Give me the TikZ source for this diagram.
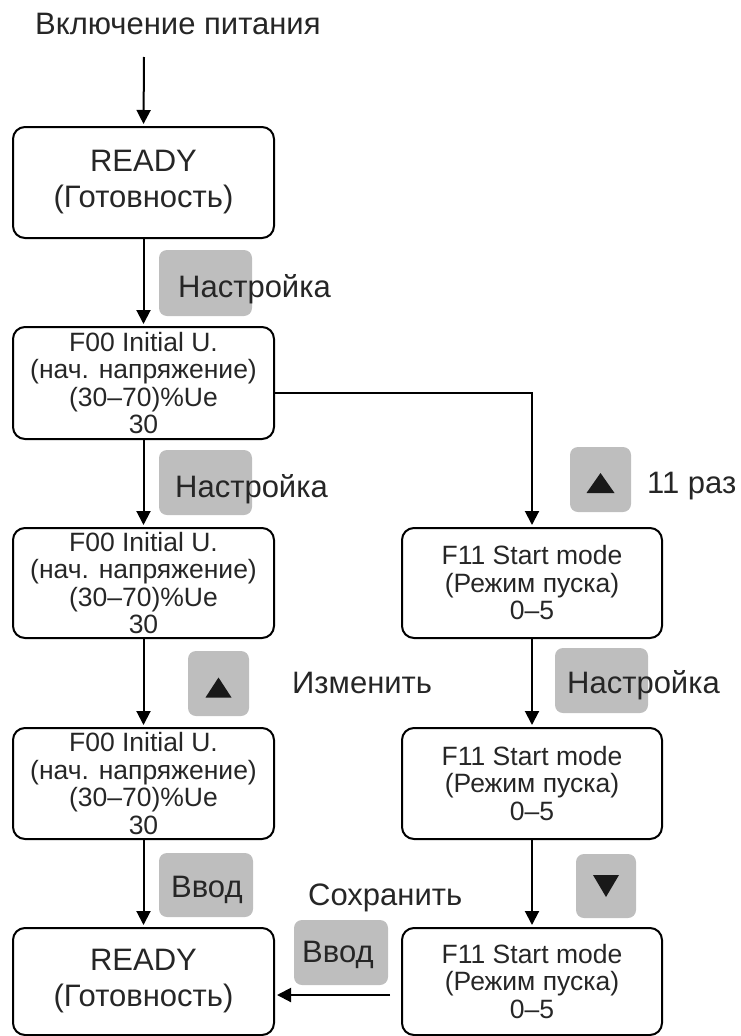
\documentclass[tikz,border=0pt]{standalone}
\usepackage{fontspec}
\setmainfont{Liberation Sans}
\usetikzlibrary{arrows.meta,calc}
\begin{document}
\begin{tikzpicture}[x=1pt,y=-1pt,
  fbox/.style={draw, line width=2pt, rounded corners=12pt, minimum width=261pt,
    inner sep=0pt, align=center, font=\fontsize{26.5}{27.5}\selectfont, text=black!85},
  rbox/.style={fbox, font=\fontsize{31}{36}\selectfont},
  keybox/.style={fill={rgb,255:red,190;green,190;blue,190}, rounded corners=8pt, inner sep=0pt},
  lbl/.style={inner sep=0pt, font=\fontsize{31}{36}\selectfont, text=black!85},
  arr/.style={line width=2pt, -{Triangle[length=14pt,width=14pt]}, shorten >=2pt},
  tri/.style={fill=black!90}
]
\useasboundingbox (0,0) rectangle (741,1036);

% boxes
\node[rbox, minimum height=111pt] (r1) at (143.5,182.5) {READY\\(Готовность)};
\node[fbox, minimum height=112pt] (f1) at (143.5,383) {F00 Initial U.\\(нач. напряжение)\\(30–70)\%Ue\\30};
\node[fbox, minimum height=110pt] (f2) at (143.5,583) {F00 Initial U.\\(нач. напряжение)\\(30–70)\%Ue\\30};
\node[fbox, minimum height=111pt] (f3) at (143.5,783.5) {F00 Initial U.\\(нач. напряжение)\\(30–70)\%Ue\\30};
\node[rbox, minimum height=107pt] (r2) at (143.5,981.5) {READY\\(Готовность)};
\node[fbox, minimum width=260pt, minimum height=110pt] (s1) at (532,583) {F11 Start mode\\(Режим пуска)\\0–5};
\node[fbox, minimum width=260pt, minimum height=111pt] (s2) at (532,783.5) {F11 Start mode\\(Режим пуска)\\0–5};
\node[fbox, minimum width=260pt, minimum height=107pt] (s3) at (532,981.5) {F11 Start mode\\(Режим пуска)\\0–5};

% keys
\node[keybox, minimum width=93pt, minimum height=66pt] (k1) at (205.5,283) {};
\node[keybox, minimum width=93pt, minimum height=65pt] (k2) at (205.5,482.5) {};
\node[keybox, minimum width=61pt, minimum height=65pt] (k3) at (218.5,683.5) {};
\node[keybox, minimum width=94pt, minimum height=64pt] (k4) at (206,885) {};
\node[keybox, minimum width=94pt, minimum height=65pt] (k5) at (341,952.5) {};
\node[keybox, minimum width=61pt, minimum height=65pt] (k6) at (600.5,479.5) {};
\node[keybox, minimum width=93pt, minimum height=65pt] (k7) at (601.5,680.5) {};
\node[keybox, minimum width=60pt, minimum height=64pt] (k8) at (606,886) {};

% key symbols
\fill[tri] ($(k3.center)+(-13,14)$) -- ++(26,0) -- ++(-13,-20) -- cycle;
\fill[tri] ($(k6.center)+(-14,13.5)$) -- ++(28,0) -- ++(-14,-20) -- cycle;
\fill[tri] ($(k8.center)+(-13,-11)$) -- ++(26,0) -- ++(-13,22) -- cycle;

% labels
\node[lbl, anchor=base west] (title) at (35,34) {Включение питания};
\node[lbl, anchor=base west] (t1) at (178,297) {Настройка};
\node[lbl, anchor=base west] (t2) at (175,497) {Настройка};
\node[lbl, anchor=base west] (t3) at (292,693) {Изменить};
\node[lbl, anchor=base west] (t4) at (171,897) {Ввод};
\node[lbl, anchor=base west] (t5) at (308,905) {Сохранить};
\node[lbl, anchor=base west] (t6) at (302,962) {Ввод};
\node[lbl, anchor=base west] (t7) at (647,493) {11 раз};
\node[lbl, anchor=base west] (t8) at (567,693.5) {Настройка};

% connectors
\coordinate (c0) at (144,57);
\draw[arr] (c0) -- (r1.north);
\draw[arr] (r1.south) -- (f1.north);
\draw[arr] (f1.south) -- (f2.north);
\draw[arr] (f2.south) -- (f3.north);
\draw[arr] (f3.south) -- (r2.north);
\draw[arr] ($(f1.east)+(0,10)$) -| (s1.north);
\draw[arr] (s1.south) -- (s2.north);
\draw[arr] (s2.south) -- (s3.north);
\coordinate (c1) at (390,995);
\draw[arr] (c1) -- (c1 -| r2.east);
\end{tikzpicture}
\end{document}
